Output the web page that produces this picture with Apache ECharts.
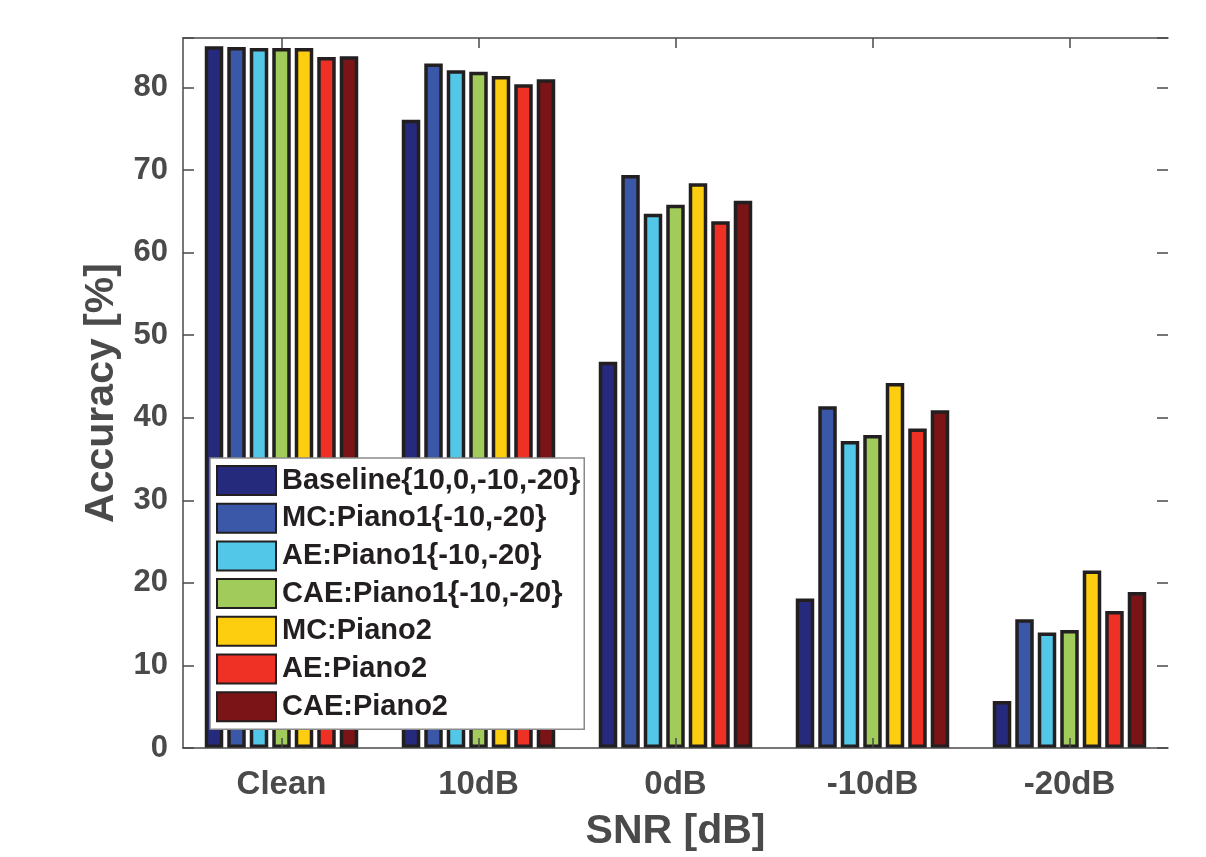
<!DOCTYPE html>
<html>
<head>
<meta charset="utf-8">
<script src="https://cdn.jsdelivr.net/npm/echarts@6/dist/echarts.min.js"></script>
<style>
html,body{margin:0;padding:0;background:#fff;}
#chart{width:1206px;height:857px;}
</style>
</head>
<body>
<div id="chart"></div>
<script>
const categories = ['Clean', '10dB', '0dB', '-10dB', '-20dB'];
const seriesNames = ['Baseline{10,0,-10,-20}', 'MC:Piano1{-10,-20}', 'AE:Piano1{-10,-20}', 'CAE:Piano1{-10,-20}', 'MC:Piano2', 'AE:Piano2', 'CAE:Piano2'];
const baseline = [85.0, 76.1, 46.8, 18.1, 5.7];
const mcPiano1 = [84.9, 82.9, 69.4, 41.4, 15.6];
const aePiano1 = [84.8, 82.1, 64.7, 37.2, 14.0];
const caePiano1 = [84.8, 81.9, 65.8, 37.9, 14.3];
const mcPiano2 = [84.8, 81.4, 68.4, 44.2, 21.5];
const aePiano2 = [83.7, 80.4, 63.8, 38.7, 16.6];
const caePiano2 = [83.8, 81.0, 66.3, 40.9, 18.9];
const yTicks = [0, 10, 20, 30, 40, 50, 60, 70, 80];

const seriesData = [baseline, mcPiano1, aePiano1, caePiano1, mcPiano2, aePiano2, caePiano2];
const colors = ['#262a7d', '#3a58a7', '#52c7e8', '#a1cb5b', '#fdcd10', '#ee3124', '#7a1416'];

const FONT = "'Liberation Sans', Arial, sans-serif";
const AX = '#4a4a4a';

const chart = echarts.init(document.getElementById('chart'), null, {renderer: 'canvas'});
chart.setOption({
  animation: false,
  backgroundColor: '#ffffff',
  color: colors,
  grid: {left: 183, right: 38, top: 38, bottom: 107, containLabel: false},
  legend: {
    orient: 'vertical',
    left: 210, top: 458,
    icon: 'rect',
    itemWidth: 59, itemHeight: 29, itemGap: 6.7,
    padding: [7, 4, 7, 6],
    backgroundColor: '#ffffff',
    borderColor: '#8a8a8a', borderWidth: 1.5,
    textStyle: {fontFamily: FONT, fontWeight: 'bold', fontSize: 29, lineHeight: 29, color: '#231f20', padding: [0, 0, 0, 1]},
    data: seriesNames,
    z: 5
  },
  xAxis: [{
    type: 'category', data: categories, position: 'bottom', z: 3,
    axisLine: {show: true, onZero: false, lineStyle: {color: AX, width: 1.5}},
    axisTick: {show: true, inside: true, alignWithLabel: true, length: 10, lineStyle: {color: AX, width: 1.5}},
    axisLabel: {fontFamily: FONT, fontWeight: 'bold', fontSize: 33, color: AX, margin: 20},
    name: 'SNR [dB]', nameLocation: 'middle', nameGap: 63,
    nameTextStyle: {fontFamily: FONT, fontWeight: 'bold', fontSize: 41, color: AX}
  }, {
    type: 'category', data: categories, position: 'top', z: 3,
    axisLine: {show: true, onZero: false, lineStyle: {color: AX, width: 1.5}},
    axisTick: {show: true, inside: true, alignWithLabel: true, length: 10, lineStyle: {color: AX, width: 1.5}},
    axisLabel: {show: false}
  }],
  yAxis: [{
    type: 'value', min: 0, max: 86, interval: 10, position: 'left', z: 3,
    axisLine: {show: true, onZero: false, lineStyle: {color: AX, width: 1.5}},
    axisTick: {show: true, inside: true, length: 11, lineStyle: {color: AX, width: 1.5}},
    splitLine: {show: false},
    axisLabel: {fontFamily: FONT, fontWeight: 'bold', fontSize: 31, color: AX, margin: 15,
      formatter: v => yTicks.indexOf(v) >= 0 ? String(v) : ''},
    name: 'Accuracy [%]', nameLocation: 'middle', nameGap: 58,
    nameTextStyle: {fontFamily: FONT, fontWeight: 'bold', fontSize: 41, color: AX}
  }, {
    type: 'value', min: 0, max: 86, interval: 10, position: 'right', z: 3,
    axisLine: {show: false, onZero: false},
    axisTick: {show: true, inside: true, length: 11, lineStyle: {color: AX, width: 1.5}},
    splitLine: {show: false},
    axisLabel: {show: false}
  }],
  series: seriesData.map((d, i) => ({
    name: seriesNames[i],
    type: 'bar',
    data: d,
    barWidth: 18.5,
    barGap: '21.6%',
    itemStyle: {color: colors[i], borderColor: '#231f20', borderWidth: 3.5}
  }))
});
</script>
</body>
</html>
